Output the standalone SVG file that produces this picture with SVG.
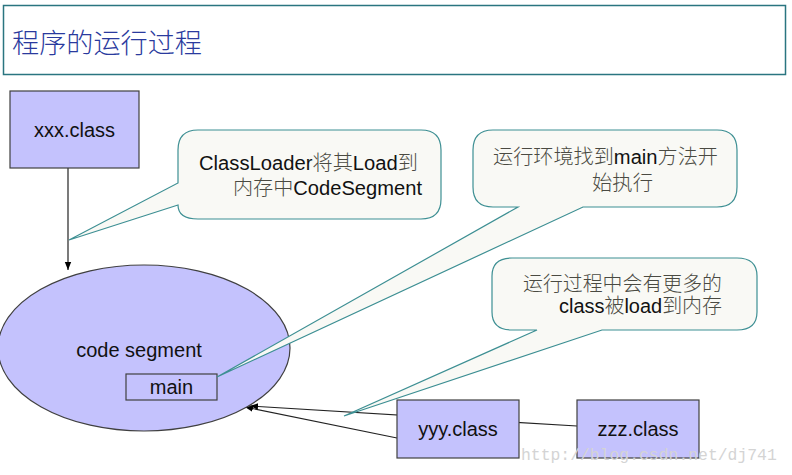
<svg xmlns="http://www.w3.org/2000/svg" width="792" height="475" viewBox="0 0 792 475">
<defs>
<marker id="ah" viewBox="0 0 10 10" refX="10" refY="5" markerWidth="8" markerHeight="8" orient="auto" markerUnits="userSpaceOnUse"><path d="M0,1 L10,5 L0,9 Z" fill="#000"/></marker>
<style>
.node{fill:#c4c2fd;stroke:#404040;stroke-width:1.2}
.lbl{font-family:"Liberation Sans","Noto Sans CJK SC",sans-serif;font-size:20px;fill:#111;text-anchor:middle}
.call{fill:#f9f9f5;stroke:#3d8f93;stroke-width:1.2}
.ct{font-family:"Liberation Sans","Noto Sans CJK SC",sans-serif;font-size:20px;fill:#111}
.cj{fill:#4a4a42;font-weight:300}
.conn{stroke:#222;stroke-width:1.2;fill:none}
</style>
</defs>
<rect width="792" height="475" fill="#fff"/>
<g id="title">
<rect x="3.5" y="5.5" width="782" height="69" fill="#fff" stroke="#2a7580" stroke-width="1.5"/>
<text x="12" y="53" font-family="Noto Sans CJK SC,sans-serif" font-size="27" font-weight="300" fill="#2a3a9e" textLength="190" lengthAdjust="spacingAndGlyphs">程序的运行过程</text>
</g>
<g id="connectors">
<line class="conn" x1="68" y1="168" x2="68" y2="270" marker-end="url(#ah)"/>
<line class="conn" x1="397" y1="438" x2="245" y2="407" marker-end="url(#ah)"/>
<line class="conn" x1="577" y1="426" x2="250" y2="406" marker-end="url(#ah)"/>
</g>
<g id="xxx">
<rect class="node" x="10" y="91" width="129" height="77"/>
<text class="lbl" x="74.5" y="137">xxx.class</text>
</g>
<g id="codesegment">
<ellipse class="node" cx="144" cy="348" rx="146" ry="83"/>
<text class="lbl" x="139" y="357">code segment</text>
</g>
<g id="main">
<rect class="node" x="126" y="374" width="91" height="26"/>
<text class="lbl" x="171.5" y="394">main</text>
</g>
<g id="yyy">
<rect class="node" x="397" y="400" width="122" height="58"/>
<text class="lbl" x="458" y="436">yyy.class</text>
</g>
<g id="zzz">
<rect class="node" x="577" y="400" width="122" height="58"/>
<text class="lbl" x="638" y="436">zzz.class</text>
</g>
<g id="callout1">
<path class="call" d="M198,130 H421 Q441,130 441,150 V199 Q441,219 421,219 H198 Q178,219 178,205 L69,240 L178,183 V150 Q178,130 198,130 Z"/>
<text class="ct" x="199" y="170" textLength="219" lengthAdjust="spacingAndGlyphs">ClassLoader<tspan class="cj">将其</tspan>Load<tspan class="cj">到</tspan></text>
<text class="ct" x="233" y="195" textLength="189" lengthAdjust="spacingAndGlyphs"><tspan class="cj">内存中</tspan>CodeSegment</text>
</g>
<g id="callout2">
<path class="call" d="M493,130 H717 Q737,130 737,150 V187 Q737,207 717,207 H583 L217,377 L518,207 H493 Q473,207 473,187 V150 Q473,130 493,130 Z"/>
<text class="ct" x="493" y="164" textLength="225" lengthAdjust="spacingAndGlyphs"><tspan class="cj">运行环境找到</tspan>main<tspan class="cj">方法开</tspan></text>
<text class="ct cj" x="592" y="190" textLength="61" lengthAdjust="spacingAndGlyphs">始执行</text>
</g>
<g id="callout3">
<path class="call" d="M512,258 H737 Q757,258 757,276 V312 Q757,330 737,330 H602 L344,416 L537,330 H512 Q492,330 492,312 V276 Q492,258 512,258 Z"/>
<text class="ct cj" x="523" y="291" textLength="199" lengthAdjust="spacingAndGlyphs">运行过程中会有更多的</text>
<text class="ct" x="559" y="313" textLength="163" lengthAdjust="spacingAndGlyphs">class<tspan class="cj">被</tspan>load<tspan class="cj">到内存</tspan></text>
</g>
<text x="521" y="460" font-family="Liberation Mono,monospace" font-size="16.4" fill="#d4d4d4">http://blog.csdn.net/dj741</text>
</svg>
